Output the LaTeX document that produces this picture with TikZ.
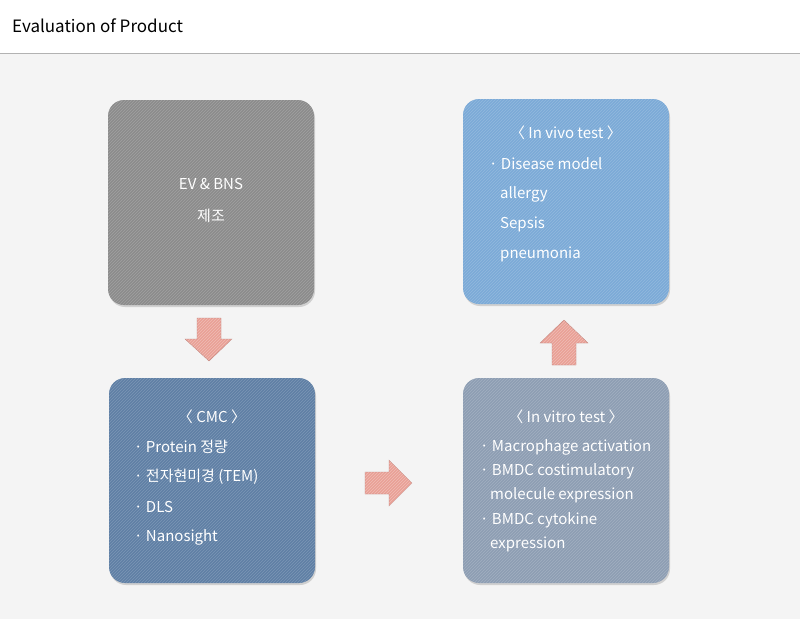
\documentclass[tikz,border=0pt]{standalone}
\usepackage{fontspec}
\setmainfont{Noto Sans CJK KR}
\usetikzlibrary{patterns,shadows}
\definecolor{bg}{HTML}{F4F4F4}
\definecolor{cgray}{HTML}{8C8C8C}
\definecolor{cvivo}{HTML}{7BAAD7}
\definecolor{ccmc}{HTML}{5F80A5}
\definecolor{cvitro}{HTML}{8E9EB3}
\definecolor{carrow}{HTML}{E9A096}
\tikzset{
 x=1pt,y=-1pt,
 card/.style={rounded corners=16pt, fill=#1, drop shadow={shadow xshift=1pt,shadow yshift=-2pt,opacity=0.3}},
 hatch/.style={rounded corners=16pt, pattern=north east lines, pattern color=white, opacity=0.18},
 txt/.style={text=white, font=\fontsize{15}{15}\selectfont, inner sep=0pt, anchor=west},
 ttl/.style={text=white, font=\fontsize{15}{15}\selectfont, inner sep=0pt},
 arr/.style={fill=carrow, draw=carrow!80!black, line width=0.3pt,
   postaction={fill, pattern=north east lines, pattern color=white, opacity=0.3}}
}
\begin{document}
\begin{tikzpicture}
\useasboundingbox (0,0) rectangle (800,619);
\fill[bg] (0,0) rectangle (800,619);
\fill[white] (0,0) rectangle (800,53);
\draw[gray!60] (0,53) -- (800,53);
\node[anchor=west,inner sep=0pt,font=\fontsize{17}{17}\selectfont] (title) at (12,26) {Evaluation of Product};

\foreach \n/\xa/\ya/\c in {g/108/100/cgray, v/463/99/cvivo, c/109/378/ccmc, t/463/378/cvitro}{
  \fill[card=\c] (\xa,\ya) rectangle ++(206,205);
  \fill[hatch] (\xa,\ya) rectangle ++(206,205);
}
\node[ttl] (g1) at (211,184) {EV \& BNS};
\node[ttl] (g2) at (211,216) {제조};

\node[ttl] (v0) at (566,133) {〈 In vivo test 〉};
\node[txt] (v1) at (489,164) {· Disease model};
\node[txt] (v2) at (500,194) {allergy};
\node[txt] (v3) at (500,224) {Sepsis};
\node[txt] (v4) at (500,254) {pneumonia};

\node[ttl] (c0) at (212,417) {〈 CMC 〉};
\node[txt] (c1) at (134,447) {· Protein 정량};
\node[txt] (c2) at (134,477) {· 전자현미경 (TEM)};
\node[txt] (c3) at (134,507) {· DLS};
\node[txt] (c4) at (134,537) {· Nanosight};

\node[ttl] (t0) at (566,417) {〈 In vitro test 〉};
\node[txt] (t1) at (480,447) {· Macrophage activation};
\node[txt] (t2) at (480,471) {· BMDC costimulatory};
\node[txt] (t3) at (490,495) {molecule expression};
\node[txt] (t4) at (480,520) {· BMDC cytokine};
\node[txt] (t5) at (490,544) {expression};

\path[arr] (197,318) -- (221,318) -- (221,339) -- (232,339) -- (209,361) -- (185,339) -- (197,339) -- cycle;
\path[arr] (365,472) -- (389,472) -- (389,460) -- (412,483) -- (389,506) -- (389,494) -- (365,494) -- cycle;
\path[arr] (552,365) -- (576,365) -- (576,343) -- (588,343) -- (564,320) -- (540,343) -- (552,343) -- cycle;
\end{tikzpicture}
\end{document}
